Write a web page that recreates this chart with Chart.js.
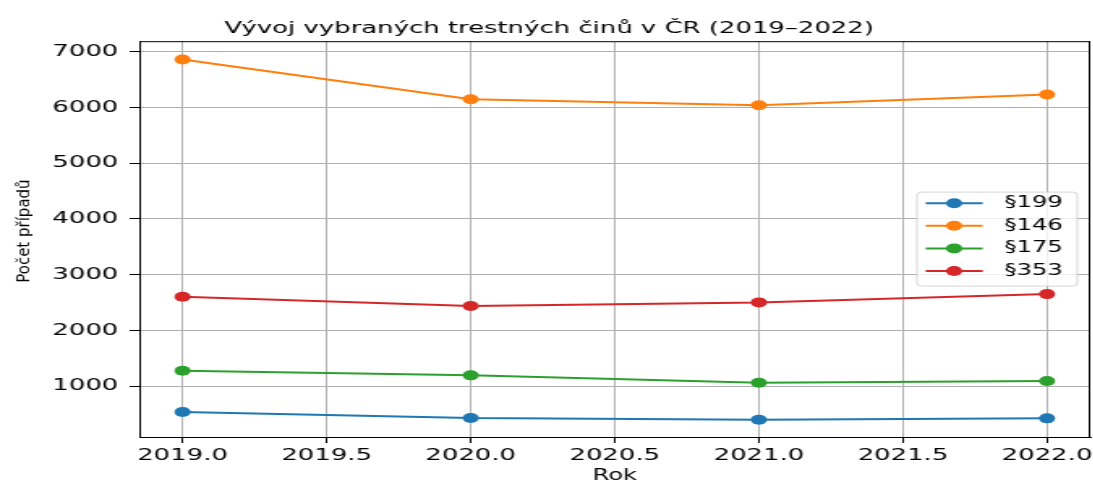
<!DOCTYPE html>
<html>
<head>
<meta charset="utf-8">
<script src="https://cdn.jsdelivr.net/npm/chart.js@4.4.1/dist/chart.umd.min.js"></script>
<style>
  html, body { margin: 0; padding: 0; background: #ffffff; overflow: hidden; width: 1093px; height: 482px; }
  #wrap { position: absolute; left: 0; top: 0; width: 678px; height: 485px; transform: scaleX(1.62); transform-origin: 0 0; }
</style>
</head>
<body>
<div id="wrap"><canvas id="c"></canvas></div>
<script>
// ---- data ----
const years = [2019, 2020, 2021, 2022];
const s199 = [533, 426, 395, 420];
const s146 = [6863, 6151, 6043, 6235];
const s175 = [1275, 1192, 1059, 1090];
const s353 = [2603, 2436, 2502, 2651];
const seriesLabels = ['§199', '§146', '§175', '§353'];
const xTickValues = [2019.0, 2019.5, 2020.0, 2020.5, 2021.0, 2021.5, 2022.0];
const yTickValues = [1000, 2000, 3000, 4000, 5000, 6000, 7000];
const chartTitle = 'Vývoj vybraných trestných činů v ČR (2019–2022)';
const xTitle = 'Rok';
const yTitle = 'Počet případů';

// ---- style ----
const colors = ['#1f77b4', '#ff7f0e', '#2ca02c', '#d62728'];
const STRETCH = 1.62;
const YLABEL_STRETCH = 1.15;
const FONT = 'DejaVu Sans';

const seriesValues = [s199, s146, s175, s353];
const datasets = seriesValues.map((vals, i) => ({
  label: seriesLabels[i],
  data: years.map((x, j) => ({ x: x, y: vals[j] })),
  borderColor: colors[i],
  backgroundColor: colors[i],
  pointBackgroundColor: colors[i],
  pointBorderWidth: 0,
  pointRadius: 5,
  pointHoverRadius: 5,
  borderWidth: 2,
  tension: 0,
  fill: false
}));

const extras = {
  id: 'extras',
  afterDatasetsDraw(chart) {
    const ctx = chart.ctx, a = chart.chartArea;
    ctx.save();
    // top and right spines
    ctx.strokeStyle = '#000';
    ctx.lineWidth = 1;
    ctx.beginPath();
    ctx.moveTo(a.left, a.top + 0.5); ctx.lineTo(a.right, a.top + 0.5);
    ctx.moveTo(a.right - 0.5, a.top); ctx.lineTo(a.right - 0.5, a.bottom);
    ctx.stroke();

    // legend (center right, inside axes)
    const ds = chart.data.datasets;
    const bw = 99, bh = 94;
    const bx = a.right - 8 - bw;
    const by = (a.top + a.bottom) / 2 - bh / 2;
    const r = 3;
    ctx.beginPath();
    ctx.moveTo(bx + r, by);
    ctx.lineTo(bx + bw - r, by); ctx.quadraticCurveTo(bx + bw, by, bx + bw, by + r);
    ctx.lineTo(bx + bw, by + bh - r); ctx.quadraticCurveTo(bx + bw, by + bh, bx + bw - r, by + bh);
    ctx.lineTo(bx + r, by + bh); ctx.quadraticCurveTo(bx, by + bh, bx, by + bh - r);
    ctx.lineTo(bx, by + r); ctx.quadraticCurveTo(bx, by, bx + r, by);
    ctx.closePath();
    ctx.fillStyle = 'rgba(255,255,255,0.8)';
    ctx.fill();
    ctx.strokeStyle = 'rgba(204,204,204,0.8)';
    ctx.lineWidth = 1;
    ctx.stroke();
    const rowGap = 22.6;
    const cy = by + bh / 2 - 2;
    ctx.font = '15px "' + FONT + '"';
    ctx.textAlign = 'left';
    ctx.textBaseline = 'middle';
    ds.forEach((d, i) => {
      const y = cy + (i - (ds.length - 1) / 2) * rowGap;
      ctx.strokeStyle = d.borderColor;
      ctx.lineWidth = 2;
      ctx.beginPath();
      ctx.moveTo(bx + 5.4, y); ctx.lineTo(bx + 40.6, y);
      ctx.stroke();
      ctx.fillStyle = d.borderColor;
      ctx.beginPath();
      ctx.arc(bx + 23, y, 5, 0, Math.PI * 2);
      ctx.fill();
      ctx.fillStyle = '#000';
      ctx.fillText(d.label, bx + 54, y);
    });

    // y axis title
    ctx.translate(a.left - 71, (a.top + a.bottom) / 2 - 8);
    ctx.scale(YLABEL_STRETCH / STRETCH, 1);
    ctx.rotate(-Math.PI / 2);
    ctx.font = '15px "' + FONT + '"';
    ctx.textAlign = 'center';
    ctx.textBaseline = 'middle';
    ctx.fillStyle = '#000';
    ctx.fillText(yTitle, 0, 0);
    ctx.restore();
  }
};

new Chart(document.getElementById('c'), {
  type: 'line',
  data: { datasets: datasets },
  plugins: [extras],
  options: {
    responsive: true,
    maintainAspectRatio: false,
    animation: false,
    events: [],
    layout: { padding: { left: 0, right: 0, top: 0, bottom: 0 } },
    plugins: {
      legend: { display: false },
      tooltip: { enabled: false },
      title: {
        display: true,
        text: chartTitle,
        color: '#000',
        font: { family: FONT, size: 16, weight: 'normal' },
        padding: { top: 19, bottom: 3 }
      }
    },
    scales: {
      x: {
        type: 'linear',
        min: 2018.85,
        max: 2022.15,
        afterBuildTicks: sc => { sc.ticks = xTickValues.map(v => ({ value: v })); },
        afterFit: sc => { sc.height = 48; },
        ticks: {
          callback: v => Number(v).toFixed(1),
          color: '#000',
          font: { family: FONT, size: 16 },
          padding: 3,
          maxRotation: 0,
          autoSkip: false
        },
        grid: { color: '#b0b0b0', lineWidth: 1, tickColor: '#000', tickLength: 6 },
        border: { display: true, color: '#000', width: 1 },
        title: {
          display: true,
          text: xTitle,
          color: '#000',
          font: { family: FONT, size: 15 },
          padding: { top: 0, bottom: 0 }
        }
      },
      y: {
        type: 'linear',
        min: 85,
        max: 7192,
        afterBuildTicks: sc => { sc.ticks = yTickValues.map(v => ({ value: v })); },
        afterFit: sc => { sc.width = 86; },
        ticks: {
          callback: v => String(v),
          color: '#000',
          font: { family: FONT, size: 16 },
          padding: 7
        },
        grid: { color: '#b0b0b0', lineWidth: 1, tickColor: '#000', tickLength: 6 },
        border: { display: true, color: '#000', width: 1 }
      }
    }
  }
});
</script>
</body>
</html>
